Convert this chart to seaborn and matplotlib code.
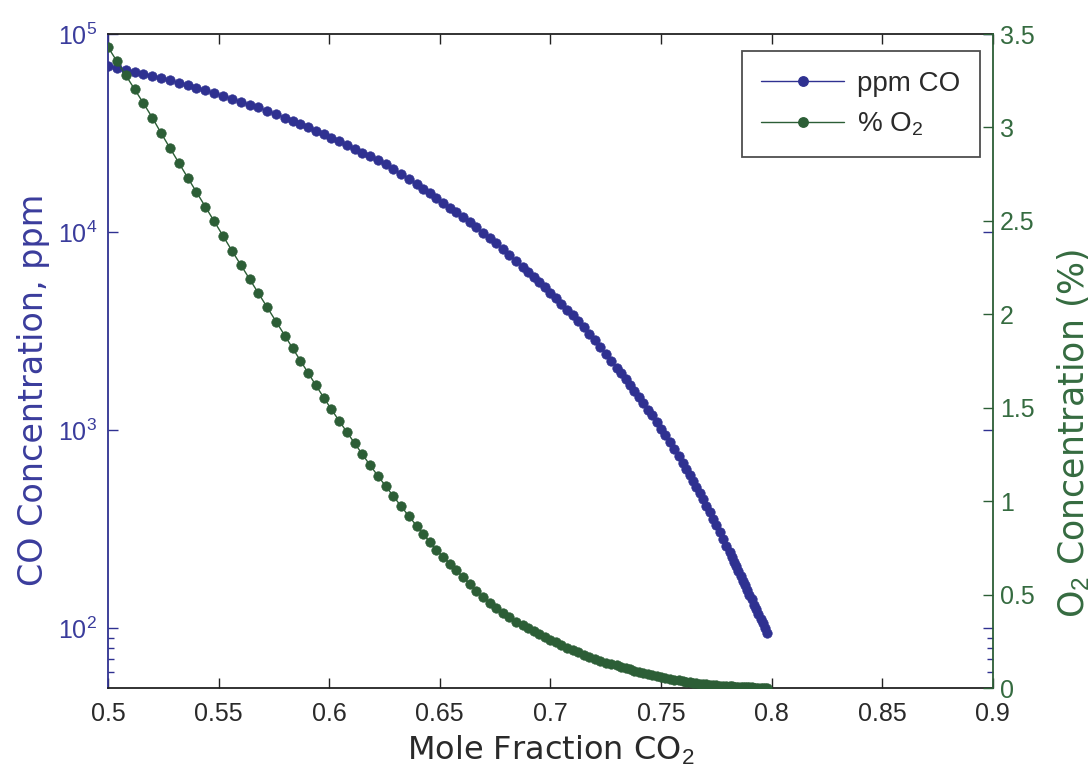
import matplotlib
matplotlib.use("Agg")
import matplotlib.pyplot as plt
from matplotlib.ticker import FixedLocator, FuncFormatter, LogFormatterMathtext, NullFormatter
from matplotlib.lines import Line2D
import pandas as pd
import seaborn as sns

# Mole fraction of CO2 in the products
mole_fraction_co2 = [
    0.5000, 0.5040, 0.5080, 0.5120, 0.5160, 0.5200, 0.5240, 0.5280, 0.5320, 0.5360,
    0.5400, 0.5440, 0.5480, 0.5520, 0.5560, 0.5600, 0.5640, 0.5680, 0.5720, 0.5760,
    0.5800,
    0.5835, 0.5870, 0.5905, 0.5940, 0.5975, 0.6010, 0.6045, 0.6080, 0.6115, 0.6150,
    0.6185, 0.6220, 0.6255, 0.6290, 0.6325, 0.6360, 0.6395,
    0.6425, 0.6455, 0.6485, 0.6515, 0.6545, 0.6575, 0.6605, 0.6635, 0.6665, 0.6695,
    0.6725, 0.6755, 0.6785, 0.6815, 0.6845, 0.6875,
    0.6900, 0.6925, 0.6950, 0.6975, 0.7000, 0.7025, 0.7050, 0.7075, 0.7100, 0.7125,
    0.7150, 0.7175, 0.7200, 0.7225, 0.7250, 0.7275, 0.7300,
    0.7320, 0.7340, 0.7360, 0.7380, 0.7400, 0.7420, 0.7440, 0.7460, 0.7480, 0.7500,
    0.7520, 0.7540, 0.7560, 0.7580, 0.7600,
    0.7615, 0.7630, 0.7645, 0.7660, 0.7675, 0.7690, 0.7705, 0.7720, 0.7735, 0.7750,
    0.7765, 0.7780, 0.7795, 0.7810,
    0.7820, 0.7830, 0.7840, 0.7850, 0.7860, 0.7870, 0.7880, 0.7890, 0.7900, 0.7910,
    0.7920, 0.7930, 0.7940, 0.7950, 0.7960, 0.7970, 0.7980,
]

# CO concentration, ppm
co_ppm = [
    68900, 67400, 66100, 64600, 63100, 61700, 60100, 58500, 56900, 55200,
    53600, 52000, 50300, 48800, 47200, 45600, 44100, 42600, 41100, 39500,
    37900,
    36600, 35200, 33900, 32600, 31300, 30000, 28700, 27500, 26400, 25200,
    24200, 23100, 22000, 20800, 19700, 18600, 17500,
    16600, 15800, 14900, 14100, 13300, 12600, 11900, 11200, 10600, 9950,
    9350, 8770, 8200, 7670, 7180, 6700,
    6320, 5960, 5610, 5270, 4950, 4650, 4360, 4070, 3810, 3560,
    3320, 3080, 2850, 2640, 2440, 2250, 2070,
    1940, 1810, 1690, 1580, 1480, 1380, 1270, 1190, 1100, 1020,
    946, 875, 807, 745, 685,
    640, 597, 556, 518, 482, 448, 416, 386, 358, 332,
    307, 284, 262, 242,
    230, 217, 206, 195, 184, 174, 165, 156, 148, 140,
    132, 125, 118, 112, 106, 100, 94.8,
]

# O2 concentration, percent
o2_percent = [
    3.430, 3.355, 3.280, 3.205, 3.130, 3.053, 2.970, 2.890, 2.811, 2.732,
    2.654, 2.576, 2.498, 2.420, 2.341, 2.265, 2.189, 2.113, 2.037, 1.961,
    1.885,
    1.818, 1.752, 1.686, 1.620, 1.555, 1.491, 1.430, 1.370, 1.310, 1.251,
    1.192, 1.136, 1.081, 1.027, 0.973, 0.920, 0.869,
    0.825, 0.781, 0.738, 0.703, 0.666, 0.630, 0.593, 0.557, 0.521, 0.487,
    0.456, 0.428, 0.402, 0.378, 0.356, 0.336,
    0.320, 0.304, 0.288, 0.273, 0.258, 0.244, 0.230, 0.217, 0.204, 0.191,
    0.179, 0.168, 0.157, 0.146, 0.136, 0.128, 0.121,
    0.114, 0.107, 0.100, 0.093, 0.087, 0.081, 0.075, 0.069, 0.064, 0.059,
    0.054, 0.049, 0.045, 0.041, 0.037,
    0.034, 0.031, 0.029, 0.026, 0.024, 0.022, 0.020, 0.018, 0.0165, 0.015,
    0.0135, 0.012, 0.011, 0.0095,
    0.0087, 0.0079, 0.0072, 0.0065, 0.0058, 0.0052, 0.0047, 0.0042, 0.0037, 0.0033,
    0.0029, 0.0026, 0.0023, 0.0020, 0.0018, 0.0016, 0.0014,
]

x_ticks = [0.5, 0.55, 0.6, 0.65, 0.7, 0.75, 0.8, 0.85, 0.9]
co_ticks = [1e2, 1e3, 1e4, 1e5]
co_minor_ticks = [60, 70, 80, 90]
o2_ticks = [0, 0.5, 1, 1.5, 2, 2.5, 3, 3.5]

series_labels = ["ppm CO", "% O$_2$"]

df = pd.DataFrame({"x": mole_fraction_co2, "co": co_ppm, "o2": o2_percent})

sns.set_theme(style="white")
plt.rcParams["font.family"] = ["Liberation Sans", "DejaVu Sans"]
plt.rcParams["mathtext.fontset"] = "custom"
plt.rcParams["mathtext.rm"] = "Liberation Sans"
plt.rcParams["mathtext.it"] = "Liberation Sans:italic"
plt.rcParams["mathtext.bf"] = "Liberation Sans:bold"

BLUE = "#2f3191"
GREEN = "#2c5e36"
BLUE_TEXT = "#3a3c9c"
GREEN_TEXT = "#356b40"
DARK = "#2a2a2a"
MS = 6.8

fig = plt.figure(figsize=(10.91, 7.74), dpi=100)
ax = fig.add_axes([0.099, 0.111, 0.811, 0.845])
ax2 = ax.twinx()

sns.lineplot(data=df, x="x", y="co", ax=ax, color=BLUE, linewidth=1.0,
             marker="o", markersize=MS, markeredgecolor=BLUE,
             markeredgewidth=0.5, legend=False)
sns.lineplot(data=df, x="x", y="o2", ax=ax2, color=GREEN, linewidth=1.0,
             marker="o", markersize=MS, markeredgecolor=GREEN,
             markeredgewidth=0.5, legend=False)

# Left axis: log scale CO
ax.set_yscale("log")
ax.set_xlim(0.5, 0.9)
ax.set_ylim(50, 1e5)
ax.yaxis.set_major_locator(FixedLocator(co_ticks))
ax.yaxis.set_major_formatter(LogFormatterMathtext())
ax.yaxis.set_minor_locator(FixedLocator(co_minor_ticks))
ax.yaxis.set_minor_formatter(NullFormatter())
ax.xaxis.set_major_locator(FixedLocator(x_ticks))
ax.xaxis.set_major_formatter(FuncFormatter(lambda v, p: f"{v:g}"))

# Right axis: linear O2
ax2.set_ylim(0, 3.5)
ax2.yaxis.set_major_locator(FixedLocator(o2_ticks))
ax2.yaxis.set_major_formatter(FuncFormatter(lambda v, p: f"{v:g}"))

ax.tick_params(axis="x", which="both", direction="in", length=7, width=1.0,
               color="#222222", labelsize=18, labelcolor=DARK, pad=10,
               top=True, bottom=True)
ax.tick_params(axis="y", which="major", direction="in", length=7, width=1.0,
               color=BLUE, labelsize=18, labelcolor=BLUE_TEXT, pad=8,
               left=True, right=True)
ax.tick_params(axis="y", which="minor", direction="in", length=4, width=1.0,
               color=BLUE, left=True, right=True)
ax2.tick_params(axis="y", which="major", direction="in", length=7, width=1.0,
                color=GREEN, labelsize=18, labelcolor=GREEN_TEXT, pad=5)

for sp in ["top", "bottom"]:
    ax.spines[sp].set_color("#222222")
    ax.spines[sp].set_linewidth(1.3)
ax.spines["left"].set_color(BLUE)
ax.spines["left"].set_linewidth(1.3)
ax.spines["right"].set_visible(False)
ax2.spines["left"].set_visible(False)
ax2.spines["top"].set_visible(False)
ax2.spines["bottom"].set_visible(False)
ax2.spines["right"].set_color(GREEN)
ax2.spines["right"].set_linewidth(1.3)

label_font = ["DejaVu Sans"]
ax.set_xlabel("Mole Fraction CO$_2$", fontsize=23, color=DARK, family=label_font)
ax.xaxis.set_label_coords(0.5, -0.07)
ax.set_ylabel("CO Concentration, ppm", fontsize=24, color=BLUE_TEXT, family=label_font)
ax.yaxis.set_label_coords(-0.066, 0.456)
ax2.set_ylabel("O$_2$ Concentration (%)", fontsize=25, color=GREEN_TEXT, family=label_font)
ax2.yaxis.set_label_coords(1.071, 0.39)

handles = [
    Line2D([], [], color=BLUE, linewidth=1.0, marker="o", markersize=MS,
           markeredgecolor=BLUE, label=series_labels[0]),
    Line2D([], [], color=GREEN, linewidth=1.0, marker="o", markersize=MS,
           markeredgecolor=GREEN, label=series_labels[1]),
]
leg = ax2.legend(handles=handles, loc="upper right", bbox_to_anchor=(0.985, 0.974),
                 borderaxespad=0, fontsize=20, frameon=True, fancybox=False,
                 edgecolor="#222222", handlelength=3.0, handletextpad=0.45,
                 labelspacing=0.5, borderpad=0.7, numpoints=1)
leg.get_frame().set_linewidth(1.3)
for t in leg.get_texts():
    t.set_color(DARK)

fig.savefig("out.png", dpi=100, facecolor="white")
